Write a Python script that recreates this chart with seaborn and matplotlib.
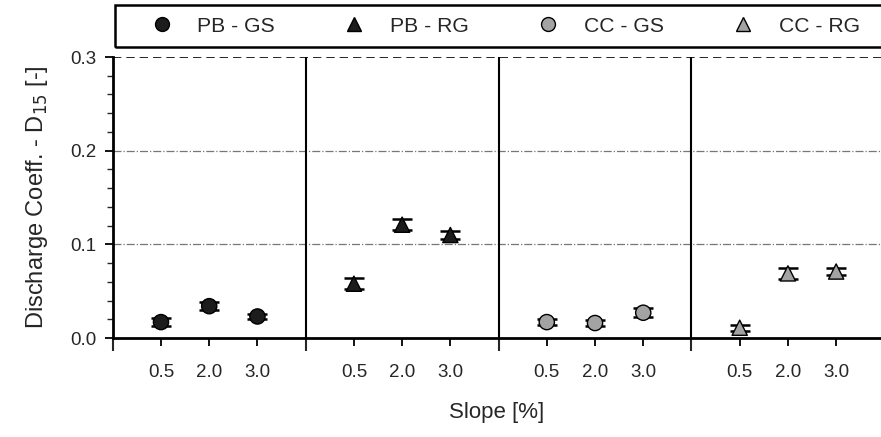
import matplotlib.pyplot as plt
import seaborn as sns
import numpy as np
import pandas as pd

# data
groups = ["PB - GS", "PB - RG", "CC - GS", "CC - RG"]
slopes = ["0.5", "2.0", "3.0"]
pb_gs = [0.017, 0.034, 0.023]
pb_rg = [0.058, 0.121, 0.110]
cc_gs = [0.017, 0.016, 0.027]
cc_rg = [0.011, 0.069, 0.071]
pb_gs_err = [0.004, 0.004, 0.003]
pb_rg_err = [0.006, 0.006, 0.004]
cc_gs_err = [0.003, 0.003, 0.005]
cc_rg_err = [0.003, 0.006, 0.004]

sns.set_style("white")
plt.rcParams["font.family"] = ["Liberation Sans", "DejaVu Sans"]

rows = []
for g, (vals, errs) in enumerate(zip([pb_gs, pb_rg, cc_gs, cc_rg],
                                     [pb_gs_err, pb_rg_err, cc_gs_err, cc_rg_err])):
    for i, s in enumerate(slopes):
        rows.append({"group": groups[g], "slope": s, "pos": g * 4 + i + 1,
                     "value": vals[i], "err": errs[i]})
df = pd.DataFrame(rows)

colors = {"PB - GS": "#1c1c1c", "PB - RG": "#1c1c1c", "CC - GS": "#a3a3a3", "CC - RG": "#a3a3a3"}
markers = {"PB - GS": "o", "PB - RG": "^", "CC - GS": "o", "CC - RG": "^"}

fig = plt.figure(figsize=(8.81, 4.37), dpi=100)
ax = fig.add_axes([0.128, 0.2265, 0.872, 0.643])

# grid lines and panel separators
for yv in [0.1, 0.2]:
    ax.axhline(yv, color="#777777", lw=0.9, ls="-.", zorder=0)
ax.axhline(0.3, color="black", lw=1.2, ls=(0, (5, 3)), zorder=0)
for xv in [4, 8, 12]:
    ax.axvline(xv, color="black", lw=1.5, zorder=1)

ax.errorbar(df["pos"], df["value"], yerr=df["err"], fmt="none",
            ecolor="black", elinewidth=1.2, capsize=7, capthick=1.8, zorder=2)
sns.scatterplot(data=df, x="pos", y="value", hue="group", style="group",
                palette=colors, markers=markers, s=120, edgecolor="black",
                linewidth=1.0, ax=ax, zorder=3, legend=False)

ax.set_xlim(0, 15.93)
ax.set_ylim(0, 0.3)
ax.set_yticks([0.0, 0.1, 0.2, 0.3])
ax.set_yticklabels(["0.0", "0.1", "0.2", "0.3"])
ax.set_yticks(np.arange(0, 0.3, 0.02), minor=True)
ax.set_xticks(df["pos"])
ax.set_xticklabels(df["slope"])
ax.set_xticks([0, 4, 8, 12], minor=True)
ax.tick_params(axis="both", which="major", labelsize=13.5, direction="out",
               length=6, width=1.3, color="black", pad=6)
ax.tick_params(axis="x", which="major", pad=13)
ax.tick_params(axis="y", which="minor", direction="out", length=4, width=1.0)
ax.tick_params(axis="x", which="minor", direction="out", length=9, width=1.5)
ax.tick_params(left=True, bottom=True, which="both")

for side in ["top", "right"]:
    ax.spines[side].set_visible(False)
for side in ["left", "bottom"]:
    ax.spines[side].set_linewidth(2)
    ax.spines[side].set_color("black")

ax.set_xlabel("Slope [%]", fontsize=16, labelpad=15)
ax.set_ylabel("Discharge Coeff. - D$_{15}$ [-]", fontsize=17, labelpad=14)

# legend box along the top
box = plt.Rectangle((115 / 881, 1 - 47 / 437), 790 / 881, 42 / 437,
                    transform=fig.transFigure, fill=False, edgecolor="black",
                    lw=1.8, clip_on=False)
fig.add_artist(box)
handles = [plt.Line2D([], [], ls="none", marker=markers[g], markersize=10,
                      markerfacecolor=colors[g], markeredgecolor="black")
           for g in groups]
fig.legend(handles, groups, loc="center left", ncol=4,
           bbox_to_anchor=(151 / 881, 1 - 26 / 437),
           frameon=False, fontsize=15.2, handlelength=1.0,
           handletextpad=1.2, columnspacing=3.25, borderaxespad=0, borderpad=0)

fig.savefig("out.png", dpi=100)
plt.close()
